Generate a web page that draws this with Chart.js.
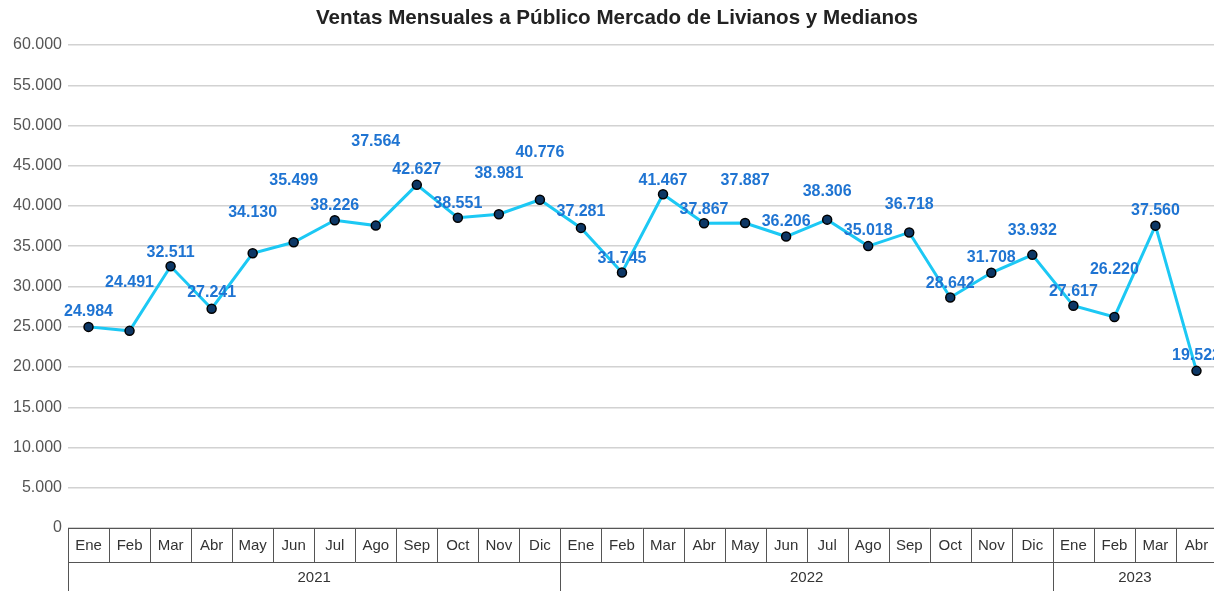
<!DOCTYPE html>
<html lang="es">
<head>
    <meta charset="UTF-8">
    <title>Ventas Mensuales a Público Mercado de Livianos y Medianos</title>
    <script src="https://cdn.jsdelivr.net/npm/chart.js"></script>
    <style>
        html, body { margin: 0; padding: 0; background: #fff; overflow: hidden; }
        #myChart { display: block; }
    </style>
</head>
<body>
    <canvas id="myChart" width="1223" height="591"></canvas>
    <script>
        // Datos
        const meses = ['Ene','Feb','Mar','Abr','May','Jun','Jul','Ago','Sep','Oct','Nov','Dic',
                       'Ene','Feb','Mar','Abr','May','Jun','Jul','Ago','Sep','Oct','Nov','Dic',
                       'Ene','Feb','Mar','Abr'];
        const anios = ['2021', '2022', '2023'];
        const mesesPorAnio = [12, 12, 4];
        const ventas = [24984, 24491, 32511, 27241, 34130, 35499, 38226, 37564, 42627, 38551, 38981, 40776,
                        37281, 31745, 41467, 37867, 37887, 36206, 38306, 35018, 36718, 28642, 31708, 33932,
                        27617, 26220, 37560, 19522];

        // Altura (px) de cada etiqueta sobre su punto, como en el original
        const alturaEtiqueta = [15, 48, 14, 16, 41, 62, 15, 84, 15, 14, 41, 47,
                                16, 14, 14, 14, 42, 15, 28, 16, 28, 14, 15, 24,
                                14, 47, 15, 15];

        function formatoMiles(v) {
            return v.toString().replace(/\B(?=(\d{3})+(?!\d))/g, '.');
        }

        // Titulo, eje x en cajas (meses / años) y etiquetas de valores
        const dibujosExtra = {
            id: 'dibujosExtra',
            afterDraw(chart) {
                const ctx = chart.ctx;
                const area = chart.chartArea;
                const x = chart.scales.x;
                const paso = x.getPixelForValue(1) - x.getPixelForValue(0);
                const izq = i => x.getPixelForValue(i) - paso / 2;
                const yFila1 = area.bottom, yFila2 = area.bottom + 34, yFin = 591;

                ctx.save();
                // titulo
                ctx.fillStyle = '#222';
                ctx.font = 'bold 20.6px "Liberation Sans", Arial, sans-serif';
                ctx.textAlign = 'center';
                ctx.textBaseline = 'middle';
                ctx.fillText('Ventas Mensuales a Público Mercado de Livianos y Medianos', 617, 18);

                // cajas del eje x
                ctx.strokeStyle = '#555';
                ctx.lineWidth = 1;
                ctx.beginPath();
                ctx.moveTo(area.left, yFila1 + 0.5); ctx.lineTo(area.right, yFila1 + 0.5);
                ctx.moveTo(area.left, yFila2 + 0.5); ctx.lineTo(area.right, yFila2 + 0.5);
                for (let i = 0; i < meses.length; i++) {
                    const px = Math.round(izq(i)) + 0.5;
                    ctx.moveTo(px, yFila1); ctx.lineTo(px, yFila2);
                }
                let acum = 0;
                for (let a = 0; a < anios.length; a++) {
                    const px = Math.round(izq(acum)) + 0.5;
                    ctx.moveTo(px, yFila2); ctx.lineTo(px, yFin);
                    acum += mesesPorAnio[a];
                }
                ctx.stroke();

                ctx.fillStyle = '#333';
                ctx.font = '15px "Liberation Sans", Arial, sans-serif';
                meses.forEach((m, i) => {
                    ctx.fillText(m, x.getPixelForValue(i), (yFila1 + yFila2) / 2 + 1);
                });
                acum = 0;
                anios.forEach((a, k) => {
                    const centro = (izq(acum) + izq(acum + mesesPorAnio[k])) / 2;
                    ctx.fillText(a, centro, (yFila2 + yFin) / 2 + 1);
                    acum += mesesPorAnio[k];
                });

                // etiquetas de valores
                const meta = chart.getDatasetMeta(0);
                ctx.fillStyle = '#1f74d2';
                ctx.font = 'bold 16px "Liberation Sans", Arial, sans-serif';
                meta.data.forEach((pt, i) => {
                    ctx.fillText(formatoMiles(ventas[i]), pt.x, pt.y - alturaEtiqueta[i]);
                });
                ctx.restore();
            }
        };

        const ctx = document.getElementById('myChart').getContext('2d');
        const myChart = new Chart(ctx, {
            type: 'line',
            data: {
                labels: meses,
                datasets: [{
                    data: ventas,
                    borderColor: '#1cc8f4',
                    borderWidth: 3,
                    pointBackgroundColor: '#0d3765',
                    pointBorderColor: '#000',
                    pointBorderWidth: 1.5,
                    pointRadius: 4.5,
                    tension: 0,
                    clip: false
                }]
            },
            options: {
                responsive: false,
                animation: false,
                layout: { padding: { top: 45, bottom: 63, left: 0, right: 0 } },
                plugins: {
                    legend: { display: false },
                    title: { display: false },
                    tooltip: { enabled: false }
                },
                scales: {
                    x: {
                        display: false,
                        offset: true
                    },
                    y: {
                        min: 0,
                        max: 60000,
                        afterFit: s => { s.width = 68; },
                        border: { display: false },
                        grid: { color: '#d2d2d2', lineWidth: 1.5, drawTicks: false },
                        ticks: {
                            stepSize: 5000,
                            padding: 6,
                            color: '#555',
                            font: { family: '"Liberation Sans", Arial, sans-serif', size: 16 },
                            callback: v => formatoMiles(v)
                        }
                    }
                }
            },
            plugins: [dibujosExtra]
        });
    </script>
</body>
</html>
